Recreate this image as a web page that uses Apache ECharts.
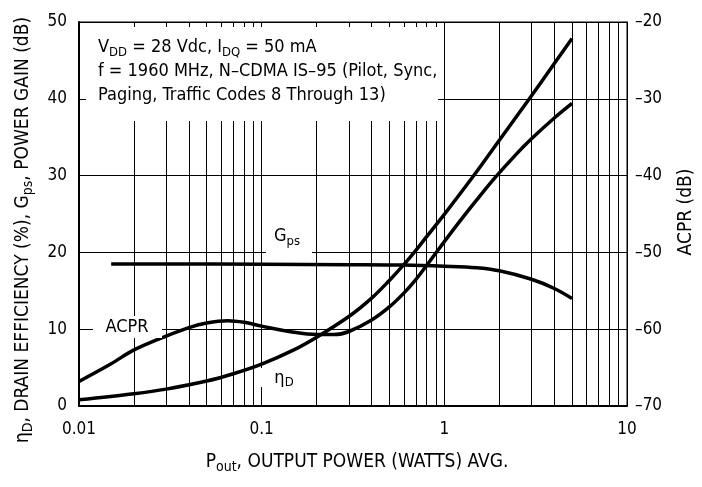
<!DOCTYPE html>
<html>
<head>
<meta charset="utf-8">
<script src="https://cdn.jsdelivr.net/npm/echarts@6/dist/echarts.min.js"></script>
<style>
html,body{margin:0;padding:0;background:#fff;}
#c{width:702px;height:487px;}
</style>
</head>
<body>
<div id="c"></div>
<script>
// ---- data ----
const xTickValues = [0.01, 0.1, 1, 10];
const minorGridP = [0.02,0.03,0.04,0.05,0.06,0.07,0.08,0.09,
                    0.2,0.3,0.4,0.5,0.6,0.7,0.8,0.9,
                    2,3,4,5,6,7,8,9];
const leftTicks = [0, 10, 20, 30, 40, 50];
const rightTicks = [-70, -60, -50, -40, -30, -20];

const gpsP = [0.015, 0.03, 0.1, 0.3, 0.6, 1.0, 1.5, 2.0, 3.0, 4.0, 5.0];
const gpsV = [18.5, 18.5, 18.45, 18.4, 18.35, 18.2, 18.0, 17.6, 16.5, 15.3, 14.0];

const effP = [0.01, 0.02, 0.03, 0.05, 0.07, 0.1, 0.15, 0.2, 0.3, 0.4, 0.5, 0.6, 0.7, 0.8, 1.0, 1.46, 2.0, 2.92, 4.0, 5.0];
const effV = [0.8, 1.6, 2.2, 3.25, 4.2, 5.45, 7.3, 8.95, 11.65, 14.05, 16.35, 18.4, 20.3, 22.05, 24.95, 30.1, 34.6, 40.0, 44.6, 47.85];

const acprP = [0.01, 0.015, 0.02, 0.03, 0.04, 0.05, 0.065, 0.08, 0.1, 0.15, 0.2, 0.25, 0.3, 0.4, 0.5, 0.6, 0.7, 0.8, 1.0, 1.22, 1.5, 1.89, 2.5, 3.0, 4.0, 5.0];
const acprV = [-66.8, -64.5, -62.7, -60.9, -59.8, -59.2, -58.9, -59.1, -59.6, -60.4, -60.7, -60.7, -60.3, -58.8, -57.1, -55.3, -53.5, -51.7, -48.6, -45.9, -43.2, -40.3, -37.1, -35.2, -32.5, -30.6];

// ---- chart ----
const FONT = "'Liberation Sans Narrow','DejaVu Sans Condensed','Roboto Condensed','Liberation Sans',sans-serif";
const zip = (a, b) => a.map((v, i) => [v, b[i]]);
const subRich = {
  sub: {fontSize: 13, lineHeight: 14, verticalAlign: 'bottom', fontFamily: FONT, fill: '#000', color: '#000'}
};
const subRichBig = {
  sub: {fontSize: 14, lineHeight: 15, verticalAlign: 'bottom', fontFamily: FONT, fill: '#000', color: '#000'}
};
const chart = echarts.init(document.getElementById('c'), null, {renderer: 'canvas'});

const lineStyle = {color: '#000', width: 3.5};

chart.setOption({
  animation: false,
  backgroundColor: '#fff',
  grid: {left: 79, right: 75, top: 22, bottom: 81, show: true, borderColor: '#000', borderWidth: 1, backgroundColor: '#fff'},
  xAxis: {
    type: 'log', logBase: 10, min: xTickValues[0], max: xTickValues[xTickValues.length - 1],
    axisLine: {show: true, lineStyle: {color: '#000', width: 2}},
    axisTick: {show: false},
    splitLine: {show: true, lineStyle: {color: '#000', width: 1}},
    axisLabel: {
      color: '#000', fontSize: 17, fontFamily: FONT, margin: 15,
      formatter: v => String(Number(Number(v).toPrecision(3)))
    }
  },
  yAxis: [
    {
      type: 'value', min: leftTicks[0], max: leftTicks[leftTicks.length - 1], interval: 10, position: 'left',
      axisLine: {show: true, lineStyle: {color: '#000', width: 2}},
      axisTick: {show: false},
      splitLine: {show: true, lineStyle: {color: '#000', width: 1}},
      axisLabel: {color: '#000', fontSize: 17, fontFamily: FONT, margin: 12}
    },
    {
      type: 'value', min: rightTicks[0], max: rightTicks[rightTicks.length - 1], interval: 10, position: 'right',
      axisLine: {show: true, lineStyle: {color: '#000', width: 1}},
      axisTick: {show: false},
      splitLine: {show: false},
      axisLabel: {color: '#000', fontSize: 17, fontFamily: FONT, margin: 8,
        formatter: v => String(v).replace('-', '\u2013')}
    }
  ],
  series: [
    {
      name: 'Gps', type: 'line', yAxisIndex: 0, data: zip(gpsP, gpsV),
      smooth: 0.35, showSymbol: false, lineStyle: lineStyle, z: 5,
      markLine: {
        silent: true, symbol: ['none', 'none'], label: {show: false},
        lineStyle: {color: '#000', width: 1, type: 'solid'},
        data: minorGridP.map(p => ({xAxis: p}))
      }
    },
    {
      name: 'Drain Efficiency', type: 'line', yAxisIndex: 0, data: zip(effP, effV),
      smooth: 0.35, showSymbol: false, lineStyle: lineStyle, z: 5
    },
    {
      name: 'ACPR', type: 'line', yAxisIndex: 1, data: zip(acprP, acprV),
      smooth: 0.35, showSymbol: false, lineStyle: lineStyle, z: 5
    }
  ],
  graphic: [
    // annotation box
    {type: 'rect', z: 50, shape: {x: 86, y: 27, width: 352, height: 94}, style: {fill: '#fff'}},
    {type: 'text', z: 51, x: 98, y: 35, style: {
      text: 'V{sub|DD} = 28 Vdc, I{sub|DQ} = 50 mA\nf = 1960 MHz, N\u2013CDMA IS\u201395 (Pilot, Sync,\nPaging, Traffic Codes 8 Through 13)',
      fontSize: 18, lineHeight: 24, fontFamily: FONT, fill: '#000', align: 'left', verticalAlign: 'top',
      rich: subRich
    }},
    // Gps label
    {type: 'rect', z: 50, shape: {x: 266, y: 222, width: 46, height: 34}, style: {fill: '#fff'}},
    {type: 'text', z: 51, x: 287, y: 236, style: {
      text: 'G{sub|ps}', fontSize: 18, lineHeight: 24, fontFamily: FONT, fill: '#000',
      align: 'center', verticalAlign: 'middle', rich: subRich
    }},
    // ACPR label
    {type: 'rect', z: 50, shape: {x: 93, y: 316, width: 69, height: 22}, style: {fill: '#fff'}},
    {type: 'text', z: 51, x: 127, y: 327, style: {
      text: 'ACPR', fontSize: 18, fontFamily: FONT, fill: '#000', align: 'center', verticalAlign: 'middle'
    }},
    // eta_D label
    {type: 'rect', z: 50, shape: {x: 260, y: 368, width: 52, height: 19}, style: {fill: '#fff'}},
    {type: 'text', z: 51, x: 284, y: 378, style: {
      text: '\u03b7{sub|D}', fontSize: 18, lineHeight: 22, fontFamily: FONT, fill: '#000',
      align: 'center', verticalAlign: 'middle', rich: subRich
    }},
    // left axis title
    {type: 'text', z: 51, x: 23, y: 230, rotation: Math.PI / 2, style: {
      text: '\u03b7{sub|D}, DRAIN EFFICIENCY (%), G{sub|ps}, POWER GAIN (dB)',
      fontSize: 19, lineHeight: 24, fontFamily: FONT, fill: '#000',
      align: 'center', verticalAlign: 'middle', rich: subRichBig
    }},
    // right axis title
    {type: 'text', z: 51, x: 686, y: 212, rotation: Math.PI / 2, style: {
      text: 'ACPR (dB)', fontSize: 19, fontFamily: FONT, fill: '#000', align: 'center', verticalAlign: 'middle'
    }},
    // x axis title
    {type: 'text', z: 51, x: 357, y: 462, style: {
      text: 'P{sub|out}, OUTPUT POWER (WATTS) AVG.', fontSize: 19, lineHeight: 24, fontFamily: FONT, fill: '#000',
      align: 'center', verticalAlign: 'middle', rich: subRichBig
    }}
  ]
});
</script>
</body>
</html>
